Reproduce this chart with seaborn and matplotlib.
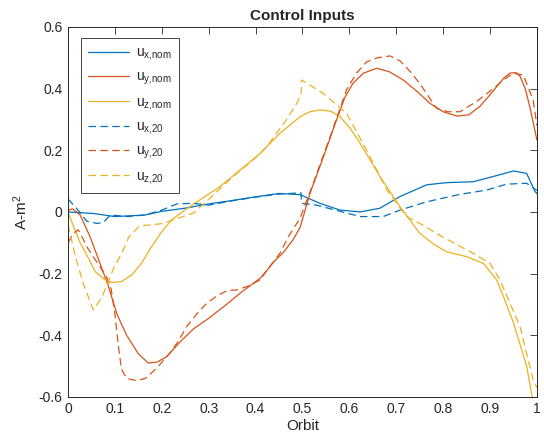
import matplotlib
matplotlib.use("Agg")
import matplotlib.pyplot as plt
import numpy as np
import pandas as pd
import seaborn as sns

# nominal control inputs
x_nom_x = [0, 0.02, 0.054, 0.1, 0.164, 0.2, 0.249, 0.3, 0.35, 0.4, 0.45, 0.495, 0.537, 0.58, 0.623,
           0.665, 0.708, 0.765, 0.807, 0.864, 0.907, 0.95, 0.978, 0.996, 1.0]
ux_nom = [0.0, -0.002, -0.005, -0.015, -0.01, 0.002, 0.012, 0.026, 0.037, 0.049, 0.06, 0.056, 0.028,
          0.006, 0.0, 0.012, 0.05, 0.088, 0.095, 0.098, 0.115, 0.133, 0.125, 0.066, 0.06]

x_nom_y = [0, 0.01, 0.026, 0.047, 0.068, 0.086, 0.104, 0.125, 0.15, 0.171, 0.19, 0.21, 0.24, 0.267,
           0.3, 0.338, 0.37, 0.41, 0.44, 0.46, 0.48, 0.495, 0.516, 0.545, 0.573, 0.59, 0.608, 0.63,
           0.658, 0.685, 0.715, 0.745, 0.772, 0.8, 0.829, 0.855, 0.878, 0.9, 0.914, 0.93, 0.942,
           0.955, 0.964, 0.975, 0.985, 1.0]
uy_nom = [0.005, 0.01, -0.01, -0.08, -0.166, -0.24, -0.33, -0.40, -0.46, -0.49, -0.487, -0.47,
          -0.42, -0.38, -0.345, -0.30, -0.26, -0.215, -0.16, -0.13, -0.09, -0.05, 0.06, 0.18, 0.30,
          0.37, 0.418, 0.45, 0.466, 0.455, 0.428, 0.39, 0.352, 0.325, 0.311, 0.315, 0.342, 0.38,
          0.406, 0.435, 0.45, 0.452, 0.44, 0.40, 0.34, 0.233]

x_nom_z = [0, 0.01, 0.026, 0.047, 0.058, 0.079, 0.093, 0.114, 0.136, 0.157, 0.178, 0.2, 0.221,
           0.249, 0.281, 0.324, 0.367, 0.41, 0.452, 0.495, 0.516, 0.537, 0.56, 0.58, 0.6, 0.623,
           0.665, 0.708, 0.75, 0.78, 0.807, 0.85, 0.886, 0.914, 0.93, 0.95, 0.978, 0.989, 1.0]
uz_nom = [0.0, -0.04, -0.10, -0.16, -0.194, -0.22, -0.229, -0.226, -0.204, -0.166, -0.113, -0.064,
          -0.026, 0.006, 0.039, 0.082, 0.136, 0.19, 0.255, 0.309, 0.325, 0.331, 0.327, 0.309, 0.275,
          0.223, 0.115, 0.017, -0.069, -0.105, -0.129, -0.145, -0.167, -0.22, -0.28, -0.36, -0.50,
          -0.594, -0.65]

# 20-term inputs
x_20_x = [0, 0.018, 0.04, 0.061, 0.075, 0.09, 0.128, 0.164, 0.2, 0.232, 0.267, 0.3, 0.35, 0.4,
          0.45, 0.497, 0.498, 0.53, 0.57, 0.623, 0.672, 0.708, 0.765, 0.836, 0.893, 0.935, 0.978,
          1.0]
ux_20 = [0.042, 0.012, -0.03, -0.037, -0.035, -0.01, -0.015, -0.01, 0.006, 0.026, 0.028, 0.022,
         0.036, 0.048, 0.058, 0.062, 0.028, 0.022, 0.006, -0.015, -0.015, 0.006, 0.033, 0.057,
         0.071, 0.09, 0.093, 0.07]

x_20_y = [0, 0.011, 0.022, 0.043, 0.063, 0.082, 0.092, 0.1, 0.107, 0.114, 0.125, 0.146, 0.165,
          0.189, 0.217, 0.235, 0.253, 0.275, 0.296, 0.32, 0.34, 0.36, 0.385, 0.41, 0.424, 0.452,
          0.47, 0.495, 0.523, 0.559, 0.594, 0.615, 0.637, 0.66, 0.687, 0.708, 0.73, 0.75, 0.786,
          0.81, 0.836, 0.871, 0.907, 0.93, 0.95, 0.971, 0.992, 1.0]
uy_20 = [-0.10, -0.07, -0.058, -0.12, -0.166, -0.21, -0.25, -0.33, -0.43, -0.51, -0.54, -0.547,
         -0.54, -0.507, -0.458, -0.42, -0.372, -0.33, -0.296, -0.27, -0.255, -0.253, -0.24, -0.22,
         -0.19, -0.134, -0.08, -0.02, 0.093, 0.244, 0.396, 0.45, 0.487, 0.5, 0.506, 0.49, 0.455,
         0.417, 0.336, 0.325, 0.325, 0.358, 0.40, 0.43, 0.45, 0.444, 0.363, 0.28]

x_20_z = [0, 0.015, 0.032, 0.054, 0.073, 0.098, 0.115, 0.13, 0.153, 0.175, 0.2, 0.23, 0.267,
          0.303, 0.352, 0.395, 0.424, 0.463, 0.488, 0.497, 0.498, 0.544, 0.594, 0.637, 0.68, 0.722,
          0.75, 0.786, 0.822, 0.864, 0.9, 0.921, 0.964, 0.992, 1.0]
uz_20 = [-0.04, -0.14, -0.23, -0.318, -0.275, -0.18, -0.133, -0.08, -0.045, -0.042, -0.038,
         -0.023, -0.004, 0.045, 0.115, 0.169, 0.212, 0.293, 0.352, 0.38, 0.428, 0.385, 0.32, 0.20,
         0.071, -0.015, -0.037, -0.07, -0.10, -0.134, -0.167, -0.22, -0.372, -0.545, -0.57]

series_labels = [r"u$_{x{,}nom}$", r"u$_{y{,}nom}$", r"u$_{z{,}nom}$",
                 r"u$_{x{,}20}$", r"u$_{y{,}20}$", r"u$_{z{,}20}$"]
x_ticks = [0, 0.1, 0.2, 0.3, 0.4, 0.5, 0.6, 0.7, 0.8, 0.9, 1.0]
x_ticklabels = ["0", "0.1", "0.2", "0.3", "0.4", "0.5", "0.6", "0.7", "0.8", "0.9", "1"]
y_ticks = [-0.6, -0.4, -0.2, 0, 0.2, 0.4, 0.6]
y_ticklabels = ["-0.6", "-0.4", "-0.2", "0", "0.2", "0.4", "0.6"]

COLORS = ["#0072BD", "#D95319", "#EDB120"]

sns.set_style("white")
plt.rcParams["font.family"] = ["Liberation Sans", "DejaVu Sans"]
plt.rcParams["axes.unicode_minus"] = False
plt.rcParams["mathtext.default"] = "regular"
plt.rcParams["lines.dashed_pattern"] = [6, 3.5]

fig = plt.figure(figsize=(5.44, 4.42), dpi=100)
ax = fig.add_axes([0.125, 0.102, 0.862, 0.837])

curves = [
    (x_nom_x, ux_nom, COLORS[0], "-"),
    (x_nom_y, uy_nom, COLORS[1], "-"),
    (x_nom_z, uz_nom, COLORS[2], "-"),
    (x_20_x, ux_20, COLORS[0], "--"),
    (x_20_y, uy_20, COLORS[1], "--"),
    (x_20_z, uz_20, COLORS[2], "--"),
]
for (xs, ys, col, ls), lab in zip(curves, series_labels):
    df = pd.DataFrame({"orbit": xs, "u": ys})
    sns.lineplot(data=df, x="orbit", y="u", ax=ax, color=col, linestyle=ls, linewidth=0.9,
                 sort=False, estimator=None, label=lab)

ax.set_xlim(0, 1)
ax.set_ylim(-0.6, 0.6)
ax.set_xticks(x_ticks)
ax.set_xticklabels(x_ticklabels)
ax.set_yticks(y_ticks)
ax.set_yticklabels(y_ticklabels)
ax.tick_params(direction="in", length=5, width=0.6, top=True, right=True, labelsize=10,
               colors="#262626", pad=4)
for sp in ax.spines.values():
    sp.set_color("#262626")
    sp.set_linewidth(0.7)

ax.set_xlabel("Orbit", fontsize=11, color="#262626", labelpad=2)
ax.set_ylabel(r"A-m$^{2}$", fontsize=11, color="#262626", labelpad=6)
ax.set_title("Control Inputs", fontsize=11, fontweight="bold", pad=5)

leg = ax.legend(loc="upper left", bbox_to_anchor=(0.027, 0.969), borderaxespad=0,
                fancybox=False, framealpha=1, edgecolor="#262626", fontsize=10,
                handlelength=3.0, labelspacing=0.55, handletextpad=0.5, borderpad=0.5)
leg.get_frame().set_linewidth(0.6)

fig.savefig("out.png", dpi=100)
